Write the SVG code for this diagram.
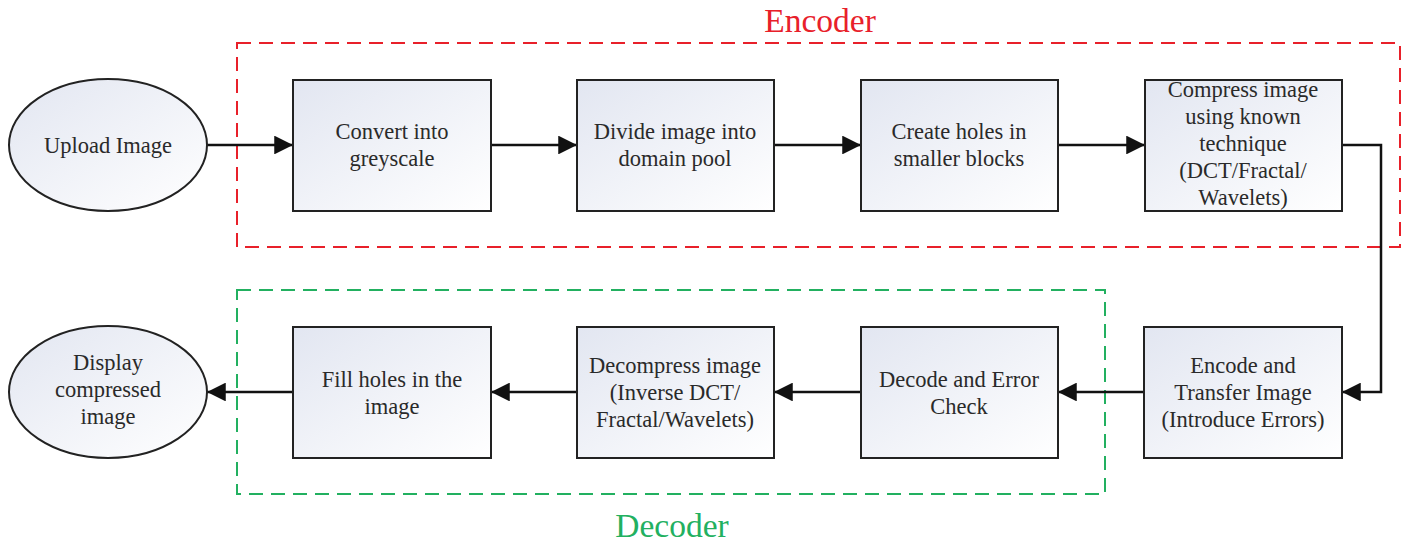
<svg xmlns="http://www.w3.org/2000/svg" width="1410" height="544" viewBox="0 0 1410 544">
  <style>
    .node { fill: url(#nodeFill); stroke: #222; stroke-width: 2; }
    .label { font-family: "Liberation Serif", "Times New Roman", serif; font-size: 22.5px; fill: #2a2a2a; text-anchor: middle; }
    .conn { fill: none; stroke: #111; stroke-width: 2.5; }
    .region { fill: none; stroke-width: 2; stroke-dasharray: 14 8; }
    .title { font-family: "Liberation Serif", "Times New Roman", serif; font-size: 33.5px; text-anchor: middle; }
  </style>
  <defs>
    <linearGradient id="nodeFill" x1="0" y1="0" x2="1" y2="1">
      <stop offset="0" stop-color="#e2e6f1"/>
      <stop offset="1" stop-color="#ffffff"/>
    </linearGradient>
    <marker id="arrow" viewBox="0 0 10 10" refX="10" refY="5" markerWidth="7.5" markerHeight="7.5" markerUnits="strokeWidth" orient="auto">
      <path d="M0,0 L10,5 L0,10 Z" fill="#111"/>
    </marker>
  </defs>

  <rect width="1410" height="544" fill="#ffffff"/>

  <!-- Encoder / decoder regions -->
  <g id="encoder-region">
    <rect class="region" x="237" y="43" width="1163" height="204" stroke="#e8202a"/>
    <text class="title" x="820" y="32" fill="#e8202a">Encoder</text>
  </g>
  <g id="decoder-region">
    <rect class="region" x="237" y="290" width="868" height="204" stroke="#22b060"/>
    <text class="title" x="672" y="537" fill="#22b060">Decoder</text>
  </g>

  <!-- Connectors -->
  <g id="connectors">
    <line class="conn" x1="207" y1="145" x2="293" y2="145" marker-end="url(#arrow)"/>
    <line class="conn" x1="491" y1="145" x2="577" y2="145" marker-end="url(#arrow)"/>
    <line class="conn" x1="774" y1="145" x2="861" y2="145" marker-end="url(#arrow)"/>
    <line class="conn" x1="1058" y1="145" x2="1145" y2="145" marker-end="url(#arrow)"/>
    <polyline class="conn" points="1342,145 1381,145 1381,392 1342,392" marker-end="url(#arrow)"/>
    <line class="conn" x1="1144" y1="392" x2="1058" y2="392" marker-end="url(#arrow)"/>
    <line class="conn" x1="861" y1="392" x2="774" y2="392" marker-end="url(#arrow)"/>
    <line class="conn" x1="577" y1="392" x2="491" y2="392" marker-end="url(#arrow)"/>
    <line class="conn" x1="293" y1="392" x2="207" y2="392" marker-end="url(#arrow)"/>
  </g>

  <!-- Nodes -->
  <g id="upload-image">
    <ellipse class="node" cx="108" cy="145" rx="99" ry="66"/>
    <text class="label" x="108" y="153">Upload Image</text>
  </g>
  <g id="convert-greyscale">
    <rect class="node" x="293" y="80" width="198" height="131"/>
    <text class="label" x="392" y="139">Convert into</text>
    <text class="label" x="392" y="166">greyscale</text>
  </g>
  <g id="divide-domain-pool">
    <rect class="node" x="577" y="80" width="197" height="131"/>
    <text class="label" x="675" y="139">Divide image into</text>
    <text class="label" x="675" y="166">domain pool</text>
  </g>
  <g id="create-holes">
    <rect class="node" x="861" y="80" width="197" height="131"/>
    <text class="label" x="959" y="139">Create holes in</text>
    <text class="label" x="959" y="166">smaller blocks</text>
  </g>
  <g id="compress-image">
    <rect class="node" x="1145" y="80" width="197" height="131"/>
    <text class="label" x="1243" y="97">Compress image</text>
    <text class="label" x="1243" y="124">using known</text>
    <text class="label" x="1243" y="151">technique</text>
    <text class="label" x="1243" y="178">(DCT/Fractal/</text>
    <text class="label" x="1243" y="205">Wavelets)</text>
  </g>
  <g id="encode-transfer">
    <rect class="node" x="1144" y="327" width="198" height="131"/>
    <text class="label" x="1243" y="373">Encode and</text>
    <text class="label" x="1243" y="400">Transfer Image</text>
    <text class="label" x="1243" y="427">(Introduce Errors)</text>
  </g>
  <g id="decode-error-check">
    <rect class="node" x="861" y="327" width="197" height="131"/>
    <text class="label" x="959" y="387">Decode and Error</text>
    <text class="label" x="959" y="414">Check</text>
  </g>
  <g id="decompress-image">
    <rect class="node" x="577" y="327" width="197" height="131"/>
    <text class="label" x="675" y="373">Decompress image</text>
    <text class="label" x="675" y="400">(Inverse DCT/</text>
    <text class="label" x="675" y="427">Fractal/Wavelets)</text>
  </g>
  <g id="fill-holes">
    <rect class="node" x="293" y="327" width="198" height="131"/>
    <text class="label" x="392" y="387">Fill holes in the</text>
    <text class="label" x="392" y="414">image</text>
  </g>
  <g id="display-image">
    <ellipse class="node" cx="108" cy="392" rx="99" ry="66"/>
    <text class="label" x="108" y="370">Display</text>
    <text class="label" x="108" y="397">compressed</text>
    <text class="label" x="108" y="424">image</text>
  </g>
</svg>
